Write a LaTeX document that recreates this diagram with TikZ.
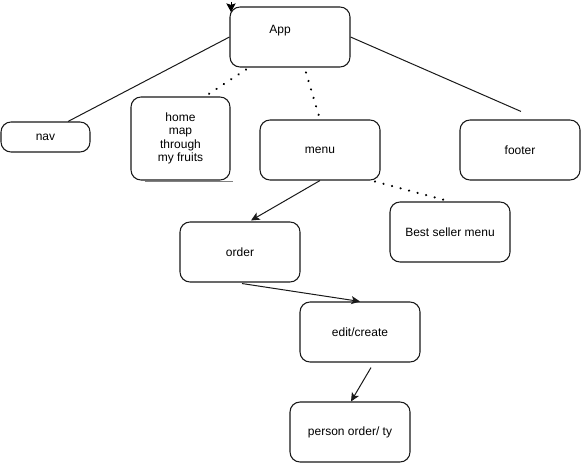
\documentclass[tikz,border=0pt]{standalone}
\usepackage{fontspec}
\setmainfont{Liberation Sans}
\usetikzlibrary{arrows.meta,calc}
\begin{document}
\begin{tikzpicture}[x=0.75pt,y=-0.75pt,
  box/.style={draw=black!90, line width=0.8pt, rounded corners=7.5pt, minimum width=90pt, minimum height=45pt, inner sep=0pt, font=\fontsize{9}{10}\selectfont, align=center},
  lbl/.style={font=\fontsize{9}{10}\selectfont, inner sep=0pt},
  plain/.style={draw=black!90, line width=0.75pt},
  dots/.style={draw=black, line width=1.8pt, dash pattern=on 0.01pt off 6.6pt, line cap=round},
  arr/.style={draw=black!90, line width=0.75pt, -{Stealth[length=6.5pt, width=6pt, inset=1.6pt]}},
  bigtip/.style={draw=black, line width=0.75pt, -{Stealth[length=6.5pt, width=7pt, inset=1.2pt]}}]
\useasboundingbox (0,0) rectangle (581,463);
\node[box] (App) at (290,37) {};
\node[lbl] (Applbl) at (280,31) {App};
\node[box, minimum width=66.75pt, minimum height=22.5pt] (nav) at (45.5,137) {nav};
\node[box, minimum width=74.25pt, minimum height=62.25pt] (home) at (180.5,138.5) {home\\map\\through\\my fruits};
\node[box] (menu) at (320,150) {menu};
\node[box] (footer) at (520,150) {footer};
\node[box] (best) at (450,232) {Best seller menu};
\node[box] (order) at (240,252) {order};
\node[box] (edit) at (360,332) {edit/create};
\node[box] (person) at (350,432) {person order/ ty};
% stray tip at App corner
\coordinate (s1) at (231,2);
\coordinate (s2) at (231,12);
\draw[bigtip] (s1) -- (s2);
% gray trace under home
\draw[black!50, line width=1pt] ($(home.south)+(-36,1)$) -- ($(home.south east)+(2,1)$);
% connectors
\coordinate (ftend) at ($(footer.north)+(1,-8)$);
\draw[plain] (App.west) -- ($(nav.north)+(22.5,0)$);
\draw[plain] (App.east) -- (ftend);
\draw[dots] ($(App.south)+(-44,2)$) -- ($(home.north)+(24.5,0)$);
\draw[dots] ($(App.south)+(16,5)$) -- (menu.north);
\draw[dots] ($(menu.south)+(55,1)$) -- (best.north);
\draw[arr] (menu.south) -- ($(order.north)+(11,-1)$);
\draw[arr] ($(order.south)+(2,1)$) -- (edit.north);
\draw[arr] ($(edit.south)+(11,5)$) -- ($(person.north)+(1,0)$);
\end{tikzpicture}
\end{document}
